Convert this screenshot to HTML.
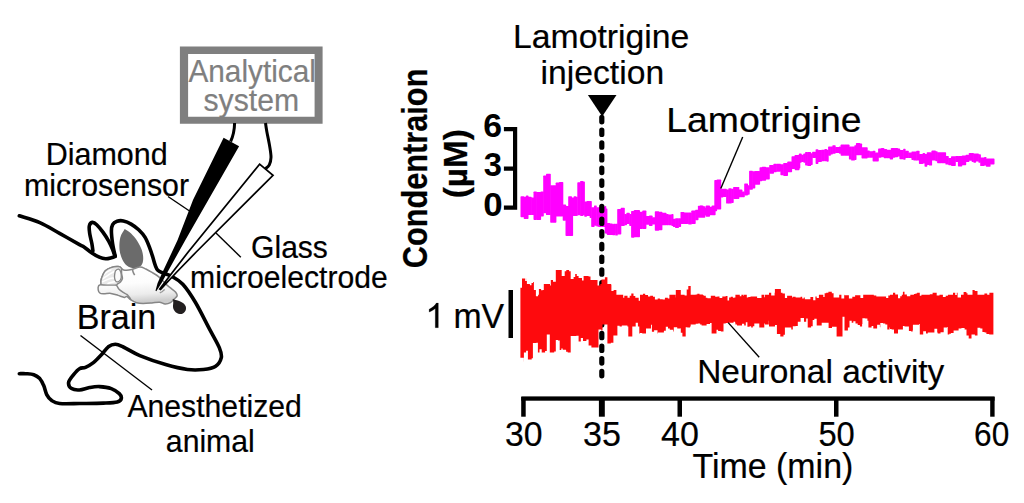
<!DOCTYPE html>
<html><head><meta charset="utf-8"><title>figure</title>
<style>
html,body{margin:0;padding:0;background:#fff;}
body{width:1024px;height:503px;overflow:hidden;font-family:"Liberation Sans", sans-serif;}
svg{display:block;position:absolute;left:0;top:0;}
text{font-family:"Liberation Sans", sans-serif;white-space:pre;}
</style></head><body>
<svg width="1024" height="503" viewBox="0 0 1024 503">
<path d="M179.9,46.5 H322.6 V123.8 H179.9 Z M188.1,53.9 V116.7 H314.6 V53.9 Z" fill="#7f7f7f" fill-rule="evenodd"/>
<path d="M234.6,123 Q234.4,133.5 230.6,141.5" stroke="#000" stroke-width="3" fill="none"/>
<path d="M265.5,123.0 C265.7,124.5 266.2,128.1 266.9,131.9 C267.6,135.7 268.9,141.5 269.6,145.8 C270.3,150.1 271.1,154.3 271.0,157.5 C270.9,160.7 270.2,163.0 269.3,164.8 C268.4,166.7 266.2,168.0 265.6,168.6" stroke="#000" stroke-width="3" fill="none"/>
<path d="M19.3,215.8 C22.7,217.0 33.1,219.8 39.8,222.7 C46.5,225.6 53.0,229.7 59.6,233.3 C66.2,237.0 75.4,242.3 79.5,244.6 C83.6,246.9 82.0,245.7 84.0,247.0 C86.0,248.3 89.0,251.0 91.6,252.7 C94.1,254.4 97.0,256.2 99.3,257.2 C101.6,258.2 103.6,258.7 105.6,258.8 C107.6,258.9 109.8,258.2 111.4,257.8 C113.0,257.4 114.6,256.6 115.2,256.3" stroke="#000" stroke-width="3.6" fill="none" stroke-linecap="round" stroke-linejoin="round"/>
<path d="M115.2,256.3 C114.8,254.2 113.2,248.0 112.6,243.8 C112.0,239.6 111.4,234.3 111.4,231.1 C111.4,227.9 111.6,226.3 112.6,224.7 C113.5,223.0 115.3,221.8 117.1,221.2 C118.9,220.6 121.1,220.4 123.4,220.9 C125.7,221.4 128.6,222.6 131.1,224.1 C133.6,225.6 136.4,227.6 138.7,229.8 C141.0,232.0 143.3,234.4 145.1,237.4 C146.9,240.4 148.3,244.2 149.6,247.6 C150.9,251.0 152.1,254.8 153.0,257.8 C153.9,260.8 154.5,263.3 155.3,265.4 C156.1,267.5 156.5,269.0 157.8,270.3 C159.1,271.6 160.7,272.0 163.0,273.0 C165.3,274.0 168.2,274.3 171.5,276.2 C174.8,278.1 178.8,279.8 182.8,284.2 C186.8,288.6 191.0,294.9 195.5,302.5 C200.0,310.1 205.8,322.1 209.8,329.6 C213.8,337.1 217.4,343.0 219.3,347.7 C221.2,352.4 222.0,354.5 221.3,357.6 C220.6,360.7 218.3,364.5 215.3,366.5 C212.3,368.5 208.0,369.0 203.4,369.5 C198.8,370.0 193.8,370.3 187.5,369.5 C181.2,368.7 173.5,366.9 165.6,364.6 C157.7,362.3 146.9,358.5 139.8,355.6 C132.8,352.7 127.4,348.9 123.3,347.0 C119.2,345.1 117.8,344.3 115.3,344.3 C112.8,344.3 110.6,345.1 108.3,346.8 C106.0,348.6 103.9,352.2 101.4,354.8 C98.9,357.4 96.1,360.6 93.4,362.7 C90.8,364.8 87.8,366.3 85.5,367.3 C83.2,368.3 81.5,367.5 79.5,368.7 C77.5,369.9 75.4,372.4 73.6,374.7 C71.8,377.0 68.9,380.3 68.6,382.6 C68.3,384.9 69.8,387.4 71.6,388.6 C73.4,389.8 76.5,390.2 79.5,390.0 C82.5,389.8 86.2,388.2 89.5,387.6 C92.8,387.0 95.8,386.4 99.4,386.6 C103.0,386.8 108.0,387.4 111.3,388.6 C114.6,389.8 117.6,392.0 119.3,393.6 C121.0,395.2 121.6,397.1 121.3,398.5 C121.0,399.9 120.3,401.1 117.3,401.9 C114.3,402.7 109.7,402.8 103.4,403.1 C97.1,403.4 86.8,403.4 79.5,403.5 C72.2,403.6 64.2,404.0 59.6,403.5 C55.0,403.0 53.9,402.0 51.7,400.5 C49.6,399.0 48.0,397.1 46.7,394.6 C45.4,392.1 44.9,388.3 43.7,385.6 C42.6,382.9 41.4,380.4 39.8,378.6 C38.1,376.8 36.1,375.5 33.8,374.7 C31.5,373.9 28.2,373.9 25.8,373.7 C23.4,373.5 20.4,373.7 19.3,373.7" stroke="#000" stroke-width="3.6" fill="none" stroke-linecap="round" stroke-linejoin="round"/>
<path d="M92.9,250.8 C92.7,249.6 92.4,246.7 91.9,243.8 C91.4,240.9 90.1,236.6 89.7,233.6 C89.3,230.6 88.9,227.9 89.3,226.0 C89.7,224.1 91.1,222.6 92.3,222.4 C93.5,222.2 94.9,223.0 96.7,224.7 C98.5,226.4 101.1,229.6 103.1,232.4 C105.1,235.2 107.2,238.5 108.8,241.3 C110.4,244.2 111.6,247.1 112.6,249.5 C113.6,251.9 114.5,254.8 114.9,255.9" stroke="#000" stroke-width="3.6" fill="none" stroke-linecap="round" stroke-linejoin="round"/>
<path d="M124.7,229.0  C124.0,230.4 121.2,233.9 120.3,237.4 C119.4,240.9 119.1,246.2 119.6,250.2 C120.1,254.2 121.9,258.9 123.4,261.6 C124.9,264.4 126.6,265.6 128.5,266.7 C130.4,267.8 132.8,268.2 134.9,268.0 C137.0,267.8 139.9,266.9 141.3,265.4 C142.7,263.9 143.1,261.6 143.2,259.1 C143.3,256.6 142.9,253.2 141.9,250.2 C140.9,247.2 139.2,244.1 137.4,241.3 C135.6,238.5 133.2,235.7 131.1,233.6 C129.0,231.5 125.8,229.8 124.7,229.0Z" fill="#6b6b6b"/>
<defs><linearGradient id="bg" x1="0" y1="0" x2="0.15" y2="1"><stop offset="0" stop-color="#ffffff"/><stop offset="0.5" stop-color="#fdfdfd"/><stop offset="0.8" stop-color="#ececec"/><stop offset="1" stop-color="#cdcdcd"/></linearGradient></defs><path d="M98.2,289.8 C98.0,288.6 98.1,286.7 98.6,285.8 C99.1,284.9 100.6,285.2 101.0,284.3 C101.4,283.4 100.7,281.8 101.0,280.3 C101.3,278.8 101.9,277.1 102.6,275.5 C103.3,273.9 103.9,272.0 105.3,270.7 C106.7,269.4 108.8,268.3 110.9,267.6 C113.0,266.9 116.4,266.5 118.1,266.6 C119.8,266.7 120.3,267.4 121.2,268.0 C122.1,268.6 121.9,269.6 123.6,269.9 C125.3,270.2 128.9,270.1 131.6,269.6 C134.3,269.1 137.5,267.1 139.9,267.0 C142.3,266.9 143.7,268.0 145.9,269.0 C148.1,270.0 150.8,271.7 152.9,273.0 C155.1,274.3 156.5,274.9 158.8,276.9 C161.1,278.9 164.7,282.9 166.8,284.9 C169.0,286.9 170.2,287.7 171.7,288.9 C173.2,290.1 174.8,291.1 175.7,292.3 C176.6,293.5 177.5,294.7 177.2,295.8 C176.9,296.9 175.1,298.1 174.0,299.2 C172.9,300.3 172.0,301.9 170.5,302.7 C169.0,303.5 166.8,304.1 165.0,304.0 C163.2,303.9 161.7,302.4 159.5,302.2 C157.3,302.0 154.6,302.7 151.9,302.9 C149.2,303.1 145.7,303.4 143.1,303.4 C140.5,303.4 138.7,303.3 136.6,302.7 C134.5,302.1 132.1,300.6 130.5,299.6 C128.9,298.6 127.8,296.9 126.8,296.5 C125.8,296.1 125.9,297.6 124.4,297.4 C123.0,297.2 120.3,296.1 118.1,295.4 C115.8,294.7 113.3,293.7 110.9,293.4 C108.5,293.1 105.6,293.9 103.7,293.8 C101.8,293.7 100.7,293.7 99.8,293.0 C98.9,292.3 98.4,291.0 98.2,289.8Z" fill="url(#bg)" stroke="#868686" stroke-width="1.5" stroke-linejoin="round"/><path d="M101.0,284.3 C100.5,283.5 100.7,281.8 101.0,280.3 C101.3,278.8 101.9,277.1 102.6,275.5 C103.3,273.9 103.9,272.0 105.3,270.7 C106.7,269.4 108.8,268.3 110.9,267.6 C113.0,266.9 116.4,266.5 118.1,266.6 C119.8,266.7 120.6,266.8 121.2,268.0 C121.8,269.2 121.4,272.1 121.6,273.9 C121.8,275.7 122.6,277.4 122.4,278.7 C122.2,280.0 121.2,281.0 120.4,281.9 C119.6,282.8 118.4,283.4 117.7,283.9 C117.0,284.4 117.8,284.9 116.5,285.1 C115.2,285.3 112.1,285.1 110.0,285.1 C107.9,285.1 105.5,285.0 104.0,284.9 C102.5,284.8 101.5,285.1 101.0,284.3Z" fill="#e9e9e9" stroke="none"/><path d="M103.7,274.7 C104.2,274.2 105.8,272.8 107.0,272.0 C108.2,271.2 110.2,270.2 110.9,269.9" fill="none" stroke="#ffffff" stroke-width="1.5" stroke-linecap="round"/><path d="M102.9,278.7 C104.1,277.9 108.2,275.1 110.1,273.9 C112.0,272.7 113.4,271.9 114.1,271.5" fill="none" stroke="#ffffff" stroke-width="1.5" stroke-linecap="round"/><path d="M102.2,281.9 C103.2,281.4 106.6,279.8 108.5,279.1 C110.4,278.4 112.8,278.1 113.7,277.9" fill="none" stroke="#ffffff" stroke-width="1.5" stroke-linecap="round"/><path d="M108.0,283.5 C108.7,283.3 110.8,282.5 112.0,282.2 C113.2,281.9 114.5,281.7 115.0,281.6" fill="none" stroke="#ffffff" stroke-width="1.5" stroke-linecap="round"/><path d="M101.0,284.3 C101.0,283.6 100.7,281.8 101.0,280.3 C101.3,278.8 101.9,277.1 102.6,275.5 C103.3,273.9 103.9,272.0 105.3,270.7 C106.7,269.4 108.8,268.3 110.9,267.6 C113.0,266.9 116.4,266.5 118.1,266.6 C119.8,266.7 120.6,266.8 121.2,268.0 C121.8,269.2 121.4,272.1 121.6,273.9 C121.8,275.7 122.6,277.4 122.4,278.7 C122.2,280.0 121.2,281.0 120.4,281.9 C119.6,282.8 118.4,283.4 117.7,283.9 C117.0,284.4 116.7,284.9 116.5,285.1" fill="none" stroke="#868686" stroke-width="1.5"/><path d="M115.7,270.7 C116.3,270.0 118.0,268.9 118.8,269.2 C119.6,269.5 120.4,270.9 120.8,272.3 C121.2,273.8 121.5,276.4 121.2,277.9 C120.9,279.4 119.7,281.0 118.8,281.5 C117.9,282.0 116.4,281.8 115.7,281.1 C115.0,280.4 114.6,278.4 114.5,277.1 C114.4,275.8 114.7,274.2 114.9,273.1 C115.1,272.0 115.1,271.4 115.7,270.7Z" fill="#fbfbfb" stroke="#868686" stroke-width="1.3"/><path d="M101.0,284.7 C102.0,284.8 104.9,285.0 106.9,285.1 C109.0,285.2 111.7,285.1 113.3,285.1 C114.9,285.2 115.6,284.8 116.5,285.4 C117.4,286.0 117.8,287.9 118.8,289.0 C119.8,290.1 121.5,291.3 122.8,292.2 C124.1,293.1 125.7,293.6 126.8,294.4 C127.9,295.2 128.5,296.1 129.2,297.0 C129.9,297.9 130.7,299.3 131.0,299.8" fill="none" stroke="#868686" stroke-width="1.4"/><path d="M159.8,292.8 C160.2,292.6 161.7,292.0 162.5,291.4 C163.3,290.8 164.4,289.7 164.8,289.4" fill="none" stroke="#9a9a9a" stroke-width="1.3"/><path d="M132.4,268.8 C132.5,269.4 132.8,271.2 133.2,272.3 C133.6,273.4 134.4,274.6 134.7,275.1" fill="none" stroke="#8a8a8a" stroke-width="1.6"/>
<path d="M172.6,299.0 C176,300 184,301.5 185.8,306.5 C187,311 183.5,314.4 180,314 C175.5,313.5 172.6,309.5 173,305.5 C173.3,303 173.5,301 172.6,299.0 Z" fill="#231f20"/>
<polygon points="223.6,137.8 239.1,146.2 208.3,200 185.4,240 178.7,252 167.6,272 161.6,282.9 156.3,291.2 155.5,290.7 157.6,282.9 162.6,272 172,252 177.6,240 193,200" fill="#000"/>
<polygon points="259.6,164.2 273,175.3 196.2,252 176.8,272 160.6,289.4 159.8,288.9 172.7,272 188.2,252" fill="#fff" stroke="#000" stroke-width="1.75" stroke-linejoin="miter"/>
<line x1="168.0" y1="196.5" x2="191.0" y2="212.0" stroke="#000" stroke-width="1.4"/>
<line x1="216.0" y1="233.0" x2="240.8" y2="257.2" stroke="#000" stroke-width="1.4"/>
<line x1="80.5" y1="335.5" x2="152.0" y2="390.0" stroke="#000" stroke-width="1.4"/>
<g fill="#ff00ff"><rect x="520.5" y="196.2" width="3.8" height="21.0" rx="0.7"/><rect x="523.7" y="196.8" width="2.8" height="22.2" rx="0.7"/><rect x="525.9" y="195.6" width="2.6" height="23.4" rx="0.7"/><rect x="527.9" y="196.8" width="3.8" height="18.3" rx="0.7"/><rect x="531.1" y="197.4" width="3.0" height="17.7" rx="0.7"/><rect x="533.5" y="191.5" width="3.4" height="28.5" rx="0.7"/><rect x="536.3" y="192.1" width="4.8" height="27.9" rx="0.7"/><rect x="540.4" y="191.5" width="3.4" height="25.0" rx="0.7"/><rect x="543.2" y="175.5" width="3.4" height="37.8" rx="0.7"/><rect x="546.0" y="173.7" width="4.8" height="41.4" rx="0.7"/><rect x="550.2" y="185.2" width="2.8" height="37.6" rx="0.7"/><rect x="552.4" y="185.2" width="4.0" height="37.6" rx="0.7"/><rect x="555.7" y="182.6" width="3.8" height="33.9" rx="0.7"/><rect x="558.9" y="182.0" width="4.4" height="34.5" rx="0.7"/><rect x="562.7" y="204.6" width="3.4" height="16.1" rx="0.7"/><rect x="565.5" y="205.9" width="3.8" height="30.1" rx="0.7"/><rect x="568.7" y="205.3" width="4.4" height="30.7" rx="0.7"/><rect x="568.2" y="196.2" width="3.8" height="18.5" rx="0.7"/><rect x="571.4" y="197.4" width="2.8" height="18.5" rx="0.7"/><rect x="573.6" y="196.2" width="2.8" height="19.7" rx="0.7"/><rect x="575.8" y="196.8" width="2.0" height="19.1" rx="0.7"/><rect x="577.3" y="182.2" width="3.4" height="33.1" rx="0.7"/><rect x="580.1" y="181.0" width="3.4" height="34.9" rx="0.7"/><rect x="582.9" y="181.6" width="2.0" height="33.7" rx="0.7"/><rect x="584.2" y="201.6" width="2.8" height="15.1" rx="0.7"/><rect x="586.4" y="201.0" width="3.8" height="15.1" rx="0.7"/><rect x="589.6" y="201.0" width="2.2" height="16.9" rx="0.7"/><rect x="591.2" y="207.2" width="3.4" height="19.8" rx="0.7"/><rect x="594.0" y="205.4" width="2.8" height="20.4" rx="0.7"/><rect x="596.2" y="207.2" width="2.6" height="19.2" rx="0.7"/><rect x="598.1" y="207.3" width="3.8" height="19.7" rx="0.7"/><rect x="601.3" y="206.7" width="3.8" height="20.3" rx="0.7"/><rect x="604.5" y="206.1" width="1.8" height="20.9" rx="0.7"/><rect x="605.8" y="225.3" width="3.8" height="8.2" rx="0.7"/><rect x="609.0" y="223.5" width="3.8" height="11.2" rx="0.7"/><rect x="612.2" y="225.3" width="3.1" height="10.0" rx="0.7"/><rect x="604.7" y="208.4" width="2.7" height="25.2" rx="0.7"/><rect x="606.8" y="223.1" width="3.4" height="11.8" rx="0.7"/><rect x="609.6" y="224.3" width="4.1" height="10.6" rx="0.7"/><rect x="613.0" y="223.8" width="2.8" height="10.0" rx="0.7"/><rect x="615.2" y="223.8" width="2.6" height="11.8" rx="0.7"/><rect x="617.2" y="209.1" width="4.1" height="25.3" rx="0.7"/><rect x="620.7" y="207.8" width="4.1" height="18.1" rx="0.7"/><rect x="624.2" y="213.9" width="2.8" height="11.4" rx="0.7"/><rect x="626.4" y="212.7" width="3.4" height="11.4" rx="0.7"/><rect x="629.2" y="213.9" width="2.6" height="12.0" rx="0.7"/><rect x="631.1" y="211.1" width="3.4" height="26.7" rx="0.7"/><rect x="633.9" y="209.9" width="3.4" height="27.3" rx="0.7"/><rect x="636.7" y="209.9" width="3.3" height="27.3" rx="0.7"/><rect x="639.5" y="211.7" width="3.4" height="17.2" rx="0.7"/><rect x="642.3" y="210.5" width="4.1" height="18.4" rx="0.7"/><rect x="645.7" y="216.1" width="3.8" height="8.6" rx="0.7"/><rect x="648.9" y="215.5" width="3.7" height="10.4" rx="0.7"/><rect x="652.0" y="217.3" width="3.4" height="7.2" rx="0.7"/><rect x="654.8" y="211.2" width="4.4" height="19.6" rx="0.7"/><rect x="658.6" y="211.8" width="3.8" height="18.4" rx="0.7"/><rect x="661.7" y="212.7" width="4.8" height="12.6" rx="0.7"/><rect x="665.9" y="214.0" width="2.8" height="11.3" rx="0.7"/><rect x="668.1" y="214.6" width="3.8" height="10.7" rx="0.7"/><rect x="671.3" y="214.0" width="2.2" height="11.9" rx="0.7"/><rect x="672.9" y="218.8" width="2.8" height="8.1" rx="0.7"/><rect x="675.1" y="218.2" width="3.8" height="9.9" rx="0.7"/><rect x="678.3" y="218.2" width="2.8" height="8.7" rx="0.7"/><rect x="680.5" y="211.9" width="3.8" height="12.0" rx="0.7"/><rect x="683.7" y="212.5" width="3.8" height="11.4" rx="0.7"/><rect x="686.9" y="212.5" width="1.8" height="11.4" rx="0.7"/><rect x="688.1" y="212.4" width="3.8" height="12.1" rx="0.7"/><rect x="691.3" y="210.6" width="4.4" height="13.3" rx="0.7"/><rect x="695.1" y="209.8" width="3.4" height="10.5" rx="0.7"/><rect x="697.9" y="205.7" width="4.4" height="12.1" rx="0.7"/><rect x="701.7" y="206.3" width="3.6" height="11.5" rx="0.7"/><rect x="699.7" y="205.6" width="3.8" height="11.1" rx="0.7"/><rect x="702.9" y="207.4" width="3.4" height="8.1" rx="0.7"/><rect x="705.7" y="205.6" width="4.3" height="11.1" rx="0.7"/><rect x="709.4" y="206.8" width="2.8" height="8.5" rx="0.7"/><rect x="711.6" y="205.6" width="4.0" height="9.7" rx="0.7"/><rect x="714.3" y="180.1" width="2.8" height="31.1" rx="0.7"/><rect x="716.5" y="179.5" width="4.7" height="29.9" rx="0.7"/><rect x="720.6" y="188.8" width="2.8" height="8.7" rx="0.7"/><rect x="722.8" y="188.8" width="4.0" height="8.1" rx="0.7"/><rect x="726.1" y="189.4" width="2.8" height="14.2" rx="0.7"/><rect x="728.3" y="188.2" width="3.4" height="15.4" rx="0.7"/><rect x="731.1" y="188.8" width="2.6" height="14.2" rx="0.7"/><rect x="733.1" y="186.9" width="4.4" height="12.1" rx="0.7"/><rect x="736.9" y="186.9" width="2.4" height="12.1" rx="0.7"/><rect x="738.6" y="189.6" width="3.8" height="7.7" rx="0.7"/><rect x="741.8" y="191.4" width="3.0" height="5.9" rx="0.7"/><rect x="744.2" y="183.4" width="3.8" height="12.0" rx="0.7"/><rect x="747.4" y="185.2" width="2.3" height="9.6" rx="0.7"/><rect x="749.1" y="170.7" width="3.8" height="19.0" rx="0.7"/><rect x="752.3" y="171.3" width="3.0" height="17.2" rx="0.7"/><rect x="754.6" y="170.9" width="5.5" height="13.9" rx="0.7"/><rect x="759.5" y="167.3" width="2.8" height="14.0" rx="0.7"/><rect x="761.7" y="166.7" width="4.4" height="14.0" rx="0.7"/><rect x="765.5" y="167.3" width="4.3" height="12.2" rx="0.7"/><rect x="769.2" y="165.1" width="4.8" height="8.7" rx="0.7"/><rect x="773.4" y="163.7" width="3.4" height="8.6" rx="0.7"/><rect x="776.2" y="163.7" width="4.8" height="8.0" rx="0.7"/><rect x="780.4" y="164.3" width="3.4" height="11.0" rx="0.7"/><rect x="783.2" y="163.1" width="4.8" height="12.8" rx="0.7"/><rect x="787.3" y="161.6" width="4.8" height="10.6" rx="0.7"/><rect x="791.5" y="156.2" width="3.8" height="12.8" rx="0.7"/><rect x="794.7" y="155.6" width="3.8" height="13.4" rx="0.7"/><rect x="797.9" y="155.6" width="2.4" height="12.8" rx="0.7"/><rect x="794.7" y="154.9" width="4.8" height="15.4" rx="0.7"/><rect x="798.9" y="153.5" width="2.8" height="9.2" rx="0.7"/><rect x="801.1" y="154.7" width="2.8" height="7.4" rx="0.7"/><rect x="803.3" y="153.5" width="2.5" height="9.2" rx="0.7"/><rect x="805.1" y="152.1" width="2.8" height="13.4" rx="0.7"/><rect x="807.3" y="152.1" width="3.8" height="14.0" rx="0.7"/><rect x="810.5" y="153.3" width="2.2" height="11.6" rx="0.7"/><rect x="812.1" y="151.8" width="4.1" height="6.1" rx="0.7"/><rect x="815.6" y="149.3" width="2.8" height="14.6" rx="0.7"/><rect x="817.8" y="149.9" width="4.0" height="12.2" rx="0.7"/><rect x="821.1" y="149.7" width="3.8" height="11.5" rx="0.7"/><rect x="824.3" y="149.1" width="2.8" height="12.1" rx="0.7"/><rect x="826.5" y="149.7" width="2.2" height="12.1" rx="0.7"/><rect x="828.1" y="146.6" width="2.8" height="9.1" rx="0.7"/><rect x="830.3" y="146.6" width="2.6" height="7.9" rx="0.7"/><rect x="832.3" y="145.2" width="3.4" height="8.5" rx="0.7"/><rect x="835.1" y="147.0" width="4.4" height="6.1" rx="0.7"/><rect x="838.9" y="146.4" width="2.3" height="7.3" rx="0.7"/><rect x="840.6" y="144.5" width="4.4" height="11.2" rx="0.7"/><rect x="844.4" y="144.5" width="5.1" height="11.2" rx="0.7"/><rect x="848.9" y="146.4" width="2.8" height="13.0" rx="0.7"/><rect x="851.1" y="146.4" width="3.8" height="14.2" rx="0.7"/><rect x="854.3" y="145.2" width="2.2" height="14.8" rx="0.7"/><rect x="855.9" y="143.0" width="4.4" height="12.2" rx="0.7"/><rect x="859.7" y="143.6" width="2.4" height="11.6" rx="0.7"/><rect x="861.5" y="147.3" width="2.8" height="11.1" rx="0.7"/><rect x="863.7" y="147.3" width="4.0" height="11.1" rx="0.7"/><rect x="867.0" y="150.6" width="2.8" height="7.2" rx="0.7"/><rect x="869.2" y="151.2" width="4.0" height="6.6" rx="0.7"/><rect x="872.6" y="150.7" width="2.8" height="10.7" rx="0.7"/><rect x="874.8" y="152.5" width="4.0" height="8.9" rx="0.7"/><rect x="878.1" y="148.5" width="3.4" height="9.3" rx="0.7"/><rect x="880.9" y="147.9" width="3.4" height="9.3" rx="0.7"/><rect x="883.7" y="149.1" width="3.4" height="9.2" rx="0.7"/><rect x="886.5" y="149.7" width="2.8" height="8.6" rx="0.7"/><rect x="888.7" y="149.7" width="2.8" height="8.6" rx="0.7"/><rect x="890.9" y="147.9" width="4.4" height="9.8" rx="0.7"/><rect x="889.7" y="150.5" width="3.4" height="8.9" rx="0.7"/><rect x="892.5" y="149.2" width="2.8" height="7.4" rx="0.7"/><rect x="894.7" y="148.0" width="3.4" height="9.2" rx="0.7"/><rect x="897.5" y="148.6" width="2.6" height="8.0" rx="0.7"/><rect x="899.4" y="149.9" width="4.4" height="9.3" rx="0.7"/><rect x="903.2" y="148.7" width="2.4" height="11.1" rx="0.7"/><rect x="905.0" y="150.8" width="3.8" height="7.3" rx="0.7"/><rect x="908.2" y="152.6" width="3.8" height="5.5" rx="0.7"/><rect x="911.4" y="151.4" width="2.6" height="8.5" rx="0.7"/><rect x="913.4" y="151.4" width="3.4" height="9.2" rx="0.7"/><rect x="916.2" y="150.8" width="3.4" height="9.8" rx="0.7"/><rect x="918.9" y="154.1" width="4.4" height="9.9" rx="0.7"/><rect x="922.7" y="152.9" width="2.4" height="10.5" rx="0.7"/><rect x="924.5" y="154.0" width="2.8" height="12.8" rx="0.7"/><rect x="926.7" y="152.2" width="2.8" height="12.8" rx="0.7"/><rect x="928.9" y="152.2" width="3.2" height="13.4" rx="0.7"/><rect x="931.5" y="150.6" width="4.4" height="10.0" rx="0.7"/><rect x="935.3" y="151.2" width="2.4" height="10.0" rx="0.7"/><rect x="937.1" y="152.2" width="4.4" height="11.1" rx="0.7"/><rect x="940.9" y="152.2" width="5.2" height="11.1" rx="0.7"/><rect x="945.4" y="156.1" width="3.4" height="8.5" rx="0.7"/><rect x="948.2" y="158.1" width="3.4" height="7.2" rx="0.7"/><rect x="951.0" y="156.3" width="4.8" height="9.6" rx="0.7"/><rect x="955.2" y="156.0" width="3.4" height="6.0" rx="0.7"/><rect x="957.9" y="156.1" width="4.4" height="10.4" rx="0.7"/><rect x="961.7" y="155.5" width="4.5" height="9.8" rx="0.7"/><rect x="965.6" y="154.7" width="3.8" height="7.3" rx="0.7"/><rect x="968.8" y="152.9" width="3.4" height="7.9" rx="0.7"/><rect x="971.6" y="152.9" width="2.3" height="9.1" rx="0.7"/><rect x="973.3" y="153.6" width="2.8" height="9.1" rx="0.7"/><rect x="975.5" y="153.6" width="3.4" height="7.9" rx="0.7"/><rect x="978.3" y="154.2" width="2.6" height="8.5" rx="0.7"/><rect x="980.2" y="157.5" width="4.4" height="8.6" rx="0.7"/><rect x="984.0" y="156.9" width="2.4" height="8.6" rx="0.7"/><rect x="985.8" y="158.4" width="4.8" height="8.4" rx="0.7"/><rect x="990.0" y="158.4" width="4.5" height="6.1" rx="0.7"/></g>
<line x1="601.8" y1="117.4" x2="601.8" y2="376" stroke="#000" stroke-width="5.2" stroke-dasharray="4.4 8.3" stroke-linecap="round"/>
<path d="M520.4,287.7 H522.0 L522.0,278.5 H523.6 L523.6,278.5 H525.2 L525.2,280.9 H526.8 L526.8,278.5 H526.9 L526.9,283.9 H528.5 L528.5,283.9 H529.9 L529.9,285.2 H531.5 L531.5,283.0 H533.1 L533.1,281.9 H533.9 L533.9,289.9 H535.9 L535.9,296.2 H538.1 L538.1,294.8 H538.9 L538.9,288.9 H541.1 L541.1,290.3 H542.7 L542.7,290.0 H543.8 L543.8,283.9 H546.6 L546.6,283.9 H550.0 L550.0,285.4 H550.8 L550.8,279.9 H553.0 L553.0,281.7 H555.8 L555.8,270.0 H559.2 L559.2,270.0 H560.8 L560.8,270.0 H561.7 L561.7,275.9 H564.5 L564.5,275.9 H564.7 L564.7,271.3 H566.3 L566.3,270.0 H569.1 L569.1,271.3 H570.7 L570.7,278.9 H573.6 L573.6,276.9 H575.2 L575.2,273.9 H576.8 L576.8,275.9 H578.6 L578.6,277.9 H582.0 L582.0,280.6 H583.6 L583.6,275.9 H587.0 L587.0,275.9 H588.6 L588.6,276.6 H590.5 L590.5,279.9 H592.7 L592.7,279.9 H596.1 L596.1,279.9 H597.5 L597.5,285.5 H600.3 L600.3,283.9 H601.5 L601.5,279.6 H604.9 L604.9,277.3 H607.1 L607.1,277.3 H607.4 L607.4,283.9 H609.6 L609.6,283.9 H611.2 L611.2,284.9 H611.4 L611.4,291.1 H613.6 L613.6,289.9 H615.2 L615.2,289.9 H616.4 L616.4,294.8 H619.8 L619.8,294.8 H623.2 L623.2,297.7 H624.3 L624.3,295.8 H625.9 L625.9,295.8 H627.5 L627.5,297.7 H629.7 L629.7,295.8 H631.3 L631.3,293.6 H633.5 L633.5,296.0 H635.3 L635.3,297.8 H638.7 L638.7,300.7 H640.0 L640.0,294.8 H643.0 L643.0,293.8 H645.2 L645.2,295.0 H648.0 L648.0,296.6 H650.2 L650.2,295.8 H653.0 L653.0,296.8 H654.6 L654.6,296.7 H654.9 L654.9,299.5 H657.7 L657.7,298.5 H659.9 L659.9,299.2 H662.7 L662.7,299.5 H664.9 L664.9,297.8 H667.1 L667.1,297.8 H667.8 L667.8,298.4 H669.4 L669.4,294.8 H672.8 L672.8,294.8 H675.6 L675.6,297.6 H675.8 L675.8,289.9 H678.0 L678.0,289.9 H680.8 L680.8,294.8 H683.0 L683.0,294.8 H684.6 L684.6,295.4 H686.7 L686.7,289.4 H688.3 L688.3,285.9 H690.5 L690.5,285.9 H690.7 L690.7,294.8 H693.5 L693.5,294.8 H695.7 L695.7,294.6 H697.3 L697.3,293.8 H699.5 L699.5,294.5 H702.9 L702.9,294.9 H703.6 L703.6,295.8 H705.8 L705.8,297.7 H707.4 L707.4,298.2 H710.8 L710.8,295.8 H713.0 L713.0,295.8 H715.2 L715.2,296.8 H717.4 L717.4,296.4 H719.5 L719.5,298.1 H722.3 L722.3,296.6 H725.7 L725.7,296.1 H727.5 L727.5,300.4 H729.1 L729.1,297.5 H730.7 L730.7,296.8 H732.9 L732.9,297.8 H734.5 L734.5,297.5 H735.4 L735.4,294.8 H737.0 L737.0,294.8 H739.8 L739.8,296.2 H741.4 L741.4,294.8 H743.0 L743.0,296.0 H743.4 L743.4,294.7 H746.8 L746.8,297.6 H748.3 L748.3,297.1 H750.5 L750.5,296.4 H752.1 L752.1,296.4 H754.9 L754.9,296.4 H757.1 L757.1,298.1 H759.3 L759.3,298.1 H761.5 L761.5,294.8 H764.3 L764.3,297.3 H765.0 L765.0,294.8 H766.6 L766.6,294.8 H769.0 L769.0,292.8 H771.2 L771.2,295.6 H774.6 L774.6,292.8 H774.9 L774.9,288.9 H777.7 L777.7,288.9 H780.5 L780.5,288.9 H780.9 L780.9,292.8 H782.5 L782.5,293.4 H784.9 L784.9,298.0 H787.1 L787.1,295.8 H789.9 L789.9,295.8 H792.1 L792.1,297.6 H792.8 L792.8,296.8 H795.6 L795.6,297.4 H799.0 L799.0,297.6 H800.6 L800.6,296.8 H802.2 L802.2,298.5 H803.8 L803.8,297.6 H804.8 L804.8,299.3 H807.6 L807.6,299.2 H810.4 L810.4,297.0 H813.2 L813.2,300.3 H815.4 L815.4,296.4 H816.7 L816.7,298.1 H818.9 L818.9,294.8 H821.1 L821.1,294.8 H823.3 L823.3,296.9 H824.6 L824.6,293.2 H826.2 L826.2,292.7 H828.4 L828.4,291.8 H831.8 L831.8,293.2 H833.6 L833.6,297.4 H837.0 L837.0,297.5 H839.2 L839.2,294.8 H841.4 L841.4,298.5 H844.2 L844.2,294.8 H844.5 L844.5,295.2 H847.3 L847.3,295.2 H848.9 L848.9,298.6 H852.3 L852.3,296.8 H855.1 L855.1,295.2 H856.7 L856.7,295.2 H858.9 L858.9,295.2 H860.4 L860.4,297.9 H863.2 L863.2,294.8 H865.4 L865.4,294.8 H868.2 L868.2,294.8 H870.4 L870.4,294.8 H873.8 L873.8,295.6 H876.3 L876.3,296.4 H877.9 L877.9,296.4 H879.5 L879.5,296.4 H881.1 L881.1,296.4 H883.9 L883.9,296.4 H886.1 L886.1,298.0 H888.3 L888.3,295.4 H890.0 L890.0,294.8 H893.0 L893.0,292.8 H895.2 L895.2,294.6 H898.0 L898.0,298.3 H900.2 L900.2,296.2 H901.8 L901.8,294.8 H902.9 L902.9,291.8 H904.5 L904.5,294.6 H906.9 L906.9,296.3 H910.3 L910.3,294.8 H912.5 L912.5,294.8 H913.9 L913.9,294.1 H915.5 L915.5,293.4 H917.1 L917.1,292.8 H919.8 L919.8,295.7 H921.4 L921.4,294.8 H923.6 L923.6,294.8 H927.0 L927.0,294.8 H929.8 L929.8,294.3 H932.6 L932.6,292.8 H934.8 L934.8,292.8 H936.7 L936.7,295.5 H939.5 L939.5,294.8 H942.9 L942.9,297.0 H945.7 L945.7,295.8 H947.9 L947.9,294.8 H949.6 L949.6,294.8 H953.0 L953.0,292.8 H955.2 L955.2,294.9 H956.8 L956.8,292.8 H957.6 L957.6,297.6 H961.0 L961.0,294.8 H963.2 L963.2,294.8 H963.6 L963.6,292.1 H966.4 L966.4,293.3 H967.5 L967.5,294.8 H969.7 L969.7,294.8 H972.5 L972.5,289.9 H974.7 L974.7,291.0 H977.5 L977.5,294.8 H979.7 L979.7,294.8 H983.1 L983.1,294.8 H984.4 L984.4,293.5 H987.2 L987.2,294.7 H989.4 L989.4,292.8 H992.2 L992.2,292.8 H993.4 L993.4,334.6 H992.0 L992.0,334.6 H989.2 L989.2,334.0 H986.4 L986.4,332.5 H984.6 L984.6,332.1 H982.4 L982.4,328.6 H980.3 L980.3,327.7 H977.5 L977.5,335.6 H974.9 L974.9,334.5 H971.5 L971.5,338.6 H970.3 L970.3,338.6 H968.7 L968.7,335.5 H966.5 L966.5,329.6 H966.2 L966.2,329.6 H964.6 L964.6,328.1 H963.0 L963.0,327.9 H961.4 L961.4,328.4 H958.6 L958.6,330.6 H957.0 L957.0,330.6 H953.6 L953.6,332.9 H950.9 L950.9,333.7 H949.3 L949.3,334.6 H947.7 L947.7,327.0 H947.1 L947.1,327.4 H943.7 L943.7,332.3 H940.5 L940.5,333.6 H937.7 L937.7,332.6 H937.2 L937.2,328.8 H934.4 L934.4,332.6 H932.8 L932.8,332.6 H930.0 L930.0,332.6 H927.8 L927.8,333.5 H926.0 L926.0,331.2 H923.2 L923.2,334.6 H919.8 L919.8,324.0 H919.1 L919.1,324.7 H916.3 L916.3,324.8 H912.9 L912.9,330.0 H912.7 L912.7,331.6 H911.1 L911.1,331.0 H908.9 L908.9,326.6 H907.9 L907.9,326.6 H904.5 L904.5,325.9 H902.9 L902.9,329.6 H900.8 L900.8,329.6 H898.0 L898.0,333.6 H895.6 L895.6,333.6 H894.0 L894.0,329.6 H891.6 L891.6,328.9 H890.0 L890.0,327.6 H889.5 L889.5,329.6 H887.3 L887.3,324.6 H886.9 L886.9,324.6 H885.3 L885.3,323.4 H883.1 L883.1,323.1 H880.3 L880.3,327.2 H879.9 L879.9,324.7 H877.1 L877.1,328.6 H875.5 L875.5,328.6 H873.3 L873.3,326.1 H871.6 L871.6,327.6 H870.0 L870.0,327.6 H868.4 L868.4,320.7 H867.4 L867.4,318.4 H865.2 L865.2,318.3 H862.4 L862.4,324.0 H862.1 L862.1,326.6 H859.9 L859.9,324.9 H857.7 L857.7,323.6 H855.5 L855.5,321.2 H853.3 L853.3,322.7 H851.7 L851.7,320.8 H849.5 L849.5,327.4 H847.9 L847.9,330.6 H844.5 L844.5,316.7 H842.5 L842.5,336.6 H840.4 L840.4,336.6 H838.2 L838.2,336.6 H836.6 L836.6,326.7 H835.4 L835.4,326.7 H832.0 L832.0,328.0 H828.6 L828.6,322.7 H828.5 L828.5,322.7 H825.1 L825.1,322.7 H821.7 L821.7,325.6 H820.5 L820.5,325.6 H818.3 L818.3,325.6 H816.7 L816.7,318.7 H814.3 L814.3,320.1 H812.7 L812.7,326.2 H811.1 L811.1,327.6 H807.7 L807.7,318.6 H806.2 L806.2,321.7 H804.0 L804.0,317.9 H800.6 L800.6,321.7 H797.8 L797.8,325.9 H795.6 L795.6,326.3 H792.8 L792.8,329.4 H791.3 L791.3,327.6 H787.9 L787.9,327.6 H784.9 L784.9,334.7 H783.5 L783.5,336.6 H781.9 L781.9,336.6 H780.3 L780.3,334.1 H776.9 L776.9,325.0 H775.0 L775.0,326.6 H773.4 L773.4,326.6 H771.8 L771.8,326.6 H769.0 L769.0,320.7 H768.8 L768.8,324.6 H767.2 L767.2,324.6 H765.0 L765.0,323.6 H764.3 L764.3,327.6 H762.7 L762.7,327.6 H759.3 L759.3,323.6 H758.7 L758.7,323.6 H756.5 L756.5,323.6 H754.3 L754.3,326.3 H752.8 L752.8,327.6 H751.2 L751.2,326.3 H749.6 L749.6,326.7 H747.4 L747.4,322.3 H745.8 L745.8,325.6 H744.2 L744.2,323.7 H742.0 L742.0,325.6 H739.2 L739.2,325.6 H737.0 L737.0,324.5 H735.4 L735.4,322.7 H735.1 L735.1,321.7 H733.5 L733.5,322.7 H731.9 L731.9,322.7 H728.5 L728.5,323.1 H725.7 L725.7,323.6 H723.5 L723.5,331.6 H720.9 L720.9,330.9 H718.1 L718.1,329.7 H716.5 L716.5,333.6 H714.4 L714.4,333.6 H711.6 L711.6,322.9 H710.0 L710.0,324.0 H706.6 L706.6,325.6 H703.8 L703.8,325.6 H701.6 L701.6,324.6 H700.1 L700.1,323.6 H697.9 L697.9,323.8 H695.7 L695.7,324.6 H694.1 L694.1,324.6 H690.7 L690.7,326.4 H690.1 L690.1,327.4 H687.3 L687.3,327.3 H685.7 L685.7,336.6 H685.2 L685.2,336.6 H682.4 L682.4,332.8 H680.8 L680.8,328.0 H680.6 L680.6,328.6 H677.2 L677.2,327.2 H673.8 L673.8,331.5 H673.2 L673.2,329.8 H669.8 L669.8,328.6 H668.0 L668.0,326.7 H665.8 L665.8,330.7 H663.9 L663.9,332.6 H662.3 L662.3,332.6 H659.5 L659.5,332.6 H657.9 L657.9,333.6 H657.5 L657.5,330.2 H654.1 L654.1,331.7 H651.9 L651.9,324.7 H651.0 L651.0,328.6 H648.8 L648.8,328.6 H646.0 L646.0,333.6 H645.6 L645.6,333.6 H642.2 L642.2,333.0 H640.0 L640.0,333.6 H639.3 L639.3,326.6 H637.9 L637.9,322.7 H635.7 L635.7,326.6 H632.3 L632.3,336.6 H631.1 L631.1,336.6 H628.3 L628.3,326.6 H627.4 L627.4,325.5 H624.0 L624.0,325.5 H621.8 L621.8,326.6 H619.6 L619.6,325.8 H617.4 L617.4,335.6 H616.8 L616.8,335.6 H613.4 L613.4,342.8 H610.8 L610.8,343.5 H607.4 L607.4,324.6 H604.7 L604.7,324.6 H602.5 L602.5,330.6 H601.3 L601.3,329.5 H598.5 L598.5,347.5 H597.4 L597.4,347.5 H595.2 L595.2,347.5 H593.6 L593.6,347.5 H591.4 L591.4,345.5 H588.6 L588.6,339.5 H586.4 L586.4,340.9 H583.0 L583.0,338.0 H580.8 L580.8,341.5 H578.6 L578.6,335.8 H576.3 L576.3,336.1 H574.1 L574.1,335.9 H570.7 L570.7,352.5 H570.5 L570.5,352.5 H567.7 L567.7,351.7 H566.1 L566.1,349.7 H562.7 L562.7,348.4 H561.3 L561.3,350.0 H559.7 L559.7,340.5 H559.6 L559.6,340.5 H558.0 L558.0,340.0 H555.8 L555.8,351.5 H554.2 L554.2,352.5 H551.4 L551.4,352.5 H549.8 L549.8,334.6 H546.8 L546.8,351.0 H545.1 L545.1,352.5 H541.7 L541.7,349.3 H539.5 L539.5,352.5 H537.9 L537.9,342.8 H536.3 L536.3,343.1 H532.9 L532.9,358.3 H531.7 L531.7,359.4 H529.5 L529.5,359.4 H527.9 L527.9,350.8 H526.1 L526.1,352.5 H523.9 L523.9,361.4 H523.8 L523.8,357.7 H520.4 Z" fill="#fe0a0d"/>
<polygon points="587.9,95.1 616.5,95.1 602.2,116.5" fill="#000"/>
<path d="M503.9,129.2 H515.1 V207.6 H503.9 M503.9,168.6 H515.1" stroke="#000" stroke-width="4.2" fill="none"/>
<rect x="508.5" y="290" width="4.5" height="48" fill="#000"/>
<rect x="521.3" y="396.4" width="473.3" height="4.3" fill="#000"/>
<rect x="521.2" y="397" width="4.5" height="19.7" fill="#000"/>
<rect x="598.9" y="397" width="5.9" height="19.7" fill="#000"/>
<rect x="677.5" y="397" width="4.5" height="19.7" fill="#000"/>
<rect x="834.0" y="397" width="4.5" height="19.7" fill="#000"/>
<rect x="990.2" y="397" width="4.4" height="19.7" fill="#000"/>
<line x1="742.7" y1="137.0" x2="720.8" y2="188.6" stroke="#000" stroke-width="1.4"/>
<line x1="728.2" y1="322.6" x2="759.2" y2="357.3" stroke="#000" stroke-width="1.4"/>
<text transform="translate(188.40,82.30) scale(0.9773,1)" font-size="30.50" font-weight="normal" fill="#7f7f7f" stroke="#7f7f7f" stroke-width="0.20">Analytical</text>
<text transform="translate(203.53,110.50) scale(0.9901,1)" font-size="30.50" font-weight="normal" fill="#7f7f7f" stroke="#7f7f7f" stroke-width="0.20">system</text>
<text transform="translate(45.72,164.60) scale(0.9995,1)" font-size="30.50" font-weight="normal" fill="#000" stroke="#000" stroke-width="0.20">Diamond</text>
<text transform="translate(23.90,195.60) scale(0.9943,1)" font-size="30.50" font-weight="normal" fill="#000" stroke="#000" stroke-width="0.20">microsensor</text>
<text transform="translate(251.09,257.90) scale(0.9857,1)" font-size="30.50" font-weight="normal" fill="#000" stroke="#000" stroke-width="0.20">Glass</text>
<text transform="translate(190.12,288.20) scale(0.9884,1)" font-size="30.50" font-weight="normal" fill="#000" stroke="#000" stroke-width="0.20">microelectrode</text>
<text transform="translate(76.74,329.40) scale(0.9881,1)" font-size="34.50" font-weight="normal" fill="#000" stroke="#000" stroke-width="0.20">Brain</text>
<text transform="translate(127.40,417.00) scale(0.9901,1)" font-size="30.50" font-weight="normal" fill="#000" stroke="#000" stroke-width="0.20">Anesthetized</text>
<text transform="translate(165.86,452.00) scale(0.9898,1)" font-size="30.50" font-weight="normal" fill="#000" stroke="#000" stroke-width="0.20">animal</text>
<text transform="translate(513.06,47.50) scale(1.0072,1)" font-size="33.50" font-weight="normal" fill="#000" stroke="#000" stroke-width="0.20">Lamotrigine</text>
<text transform="translate(540.49,83.90) scale(1.0064,1)" font-size="33.50" font-weight="normal" fill="#000" stroke="#000" stroke-width="0.20">injection</text>
<text transform="translate(666.28,132.10) scale(1.0836,1)" font-size="34.50" font-weight="normal" fill="#000" stroke="#000" stroke-width="0.20">Lamotrigine</text>
<text transform="translate(697.19,382.90) scale(1.0043,1)" font-size="33.30" font-weight="normal" fill="#000" stroke="#000" stroke-width="0.20">Neuronal activity</text>
<text transform="translate(453.39,327.70) scale(0.9864,1)" font-size="34.30" font-weight="normal" fill="#000" stroke="#000" stroke-width="0.20">mV</text>
<text transform="translate(483.24,136.70) scale(1.0090,1)" font-size="33.50" font-weight="bold" fill="#000" stroke="#000" stroke-width="0.00">6</text>
<text transform="translate(483.79,176.20) scale(0.9784,1)" font-size="33.50" font-weight="bold" fill="#000" stroke="#000" stroke-width="0.00">3</text>
<text transform="translate(483.21,215.80) scale(1.0415,1)" font-size="33.50" font-weight="bold" fill="#000" stroke="#000" stroke-width="0.00">0</text>
<text transform="translate(504.94,446.00) scale(0.9576,1)" font-size="35.30" font-weight="normal" fill="#000" stroke="#000" stroke-width="0.20">30</text>
<text transform="translate(582.93,446.00) scale(0.9665,1)" font-size="35.30" font-weight="normal" fill="#000" stroke="#000" stroke-width="0.20">35</text>
<text transform="translate(660.97,446.00) scale(0.9647,1)" font-size="35.30" font-weight="normal" fill="#000" stroke="#000" stroke-width="0.20">40</text>
<text transform="translate(818.38,446.00) scale(0.9281,1)" font-size="35.30" font-weight="normal" fill="#000" stroke="#000" stroke-width="0.20">50</text>
<text transform="translate(974.12,446.00) scale(0.8957,1)" font-size="35.30" font-weight="normal" fill="#000" stroke="#000" stroke-width="0.20">60</text>
<text transform="translate(692.47,477.90) scale(0.9507,1)" font-size="35.70" font-weight="normal" fill="#000" stroke="#000" stroke-width="0.20">Time (min)</text>
<text transform="translate(427.20,268.26) rotate(-90) scale(0.8657,1)" font-size="35.50" font-weight="bold" fill="#000" stroke="#000" stroke-width="0.25">Condentraion</text>
<text transform="translate(467.10,198.26) rotate(-90) scale(0.9949,1)" font-size="33.50" font-weight="bold" fill="#000" stroke="#000" stroke-width="0.25">(µM)</text>
<path d="M438.33,327.70 L435.26,327.70 L435.26,308.49 Q434.15,309.53 432.35,310.57 Q430.54,311.61 429.11,312.12 L429.11,309.21 Q431.69,308.02 433.62,306.33 Q435.55,304.64 436.35,303.05 L438.33,303.05 Z" fill="#000" stroke="#000" stroke-width="0.20" stroke-linejoin="round"/>
</svg>
</body></html>
